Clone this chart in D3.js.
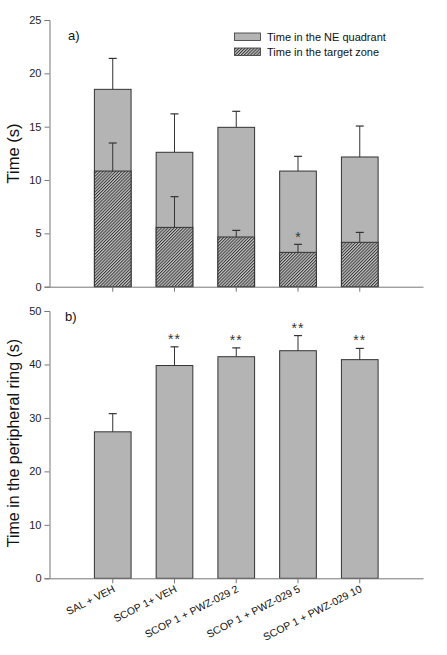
<!DOCTYPE html>
<html><head><meta charset="utf-8">
<script src="https://cdn.jsdelivr.net/npm/d3@7"></script>
<style>body{margin:0;background:#fff}svg{display:block;font-family:Arial,"Liberation Sans",sans-serif}</style>
</head><body><svg id="c" width="447" height="655"></svg>
<script>
const categories = ["SAL + VEH","SCOP 1+ VEH","SCOP 1 + PWZ-029 2","SCOP 1 + PWZ-029 5","SCOP 1 + PWZ-029 10"];
const neQuadrant = [18.5, 12.6, 14.94, 10.84, 12.16];
const neQuadrantErr = [2.9, 3.6, 1.5, 1.38, 2.9];
const targetZone = [10.84, 5.56, 4.66, 3.22, 4.16];
const targetZoneErr = [2.63, 2.88, 0.62, 0.75, 0.93];
const targetSig = ["", "", "", "*", ""];
const periphRing = [27.4, 39.8, 41.45, 42.57, 40.9];
const periphRingErr = [3.4, 3.5, 1.65, 2.83, 2.1];
const periphSig = ["", "**", "**", "**", "**"];
const ticksA = [0,5,10,15,20,25];
const ticksB = [0,10,20,30,40,50];
const legendLabels = ["Time in the NE quadrant","Time in the target zone"];

const svg = d3.select("#c");
const barFill = "#b4b4b4", edge = "#333", axisCol = "#777";

const defs = svg.append("defs");
const P = 2.2;
const pat = defs.append("pattern").attr("id","hatch").attr("patternUnits","userSpaceOnUse")
  .attr("width",P).attr("height",P).attr("patternTransform","rotate(45)");
pat.append("rect").attr("width",P).attr("height",P).attr("fill","#c4c4c4");
pat.append("line").attr("x1",0.5).attr("y1",0).attr("x2",0.5).attr("y2",P).attr("stroke","#3a3a3a").attr("stroke-width",1);

const x = d3.scaleBand().domain(categories).range([49.5,423]).paddingInner(0.406).paddingOuter(0.727);

function panel(yTop, yBot, max, ticks){
  const y = d3.scaleLinear().domain([0,max]).range([yBot,yTop]);
  const g = svg.append("g");
  const ya = g.append("g").attr("transform","translate(49.5,0)")
    .call(d3.axisLeft(y).tickValues(ticks).tickSize(5).tickPadding(3));
  ya.select(".domain").attr("stroke",axisCol);
  ya.selectAll(".tick line").attr("stroke",axisCol);
  ya.selectAll("text").attr("font-size",11).attr("fill","#222").attr("font-family","Arial, 'Liberation Sans', sans-serif");
  return {y,g};
}
function xAxis(g,y,labels){
  const xa = g.append("g").attr("transform",`translate(0,${y.range()[0]})`)
    .call(d3.axisBottom(x).tickSize(5).tickSizeOuter(0).tickFormat(labels?null:""));
  xa.select(".domain").attr("stroke",axisCol);
  xa.selectAll(".tick line").attr("stroke",axisCol);
  return xa;
}
function errBars(g,y,vals,errs){
  const cap = 4;
  vals.forEach((v,i)=>{
    const cx = x(categories[i]) + x.bandwidth()/2;
    g.append("line").attr("x1",cx).attr("x2",cx).attr("y1",y(v)).attr("y2",y(v+errs[i])).attr("stroke",edge).attr("stroke-width",1);
    g.append("line").attr("x1",cx-cap).attr("x2",cx+cap).attr("y1",y(v+errs[i])).attr("y2",y(v+errs[i])).attr("stroke",edge).attr("stroke-width",1.2);
  });
}

// Panel a
const A = panel(20, 286.7, 25, ticksA);
A.g.selectAll(".ne").data(neQuadrant).join("rect")
  .attr("x",(d,i)=>x(categories[i])).attr("width",x.bandwidth())
  .attr("y",d=>A.y(d)).attr("height",d=>A.y(0)-A.y(d))
  .attr("fill",barFill).attr("stroke",edge).attr("stroke-width",1);
errBars(A.g,A.y,neQuadrant,neQuadrantErr);
A.g.selectAll(".tz").data(targetZone).join("rect")
  .attr("x",(d,i)=>x(categories[i])).attr("width",x.bandwidth())
  .attr("y",d=>A.y(d)).attr("height",d=>A.y(0)-A.y(d))
  .attr("fill","url(#hatch)").attr("stroke",edge).attr("stroke-width",1);
errBars(A.g,A.y,targetZone,targetZoneErr);
targetSig.forEach((s,i)=>{ if(!s) return;
  A.g.append("text").attr("x",x(categories[i])+x.bandwidth()/2).attr("y",A.y(targetZone[i]+targetZoneErr[i])-2)
   .attr("text-anchor","middle").attr("font-size",14).attr("fill","#333").text(s);
});
xAxis(A.g,A.y,false);
A.g.append("text").attr("x",68).attr("y",40).attr("font-size",13).attr("fill","#111").text("a)");
A.g.append("text").attr("transform","translate(19,153.5) rotate(-90)").attr("text-anchor","middle")
  .attr("font-size",16.5).attr("fill","#111").text("Time (s)");
// legend
const legFills = [barFill,"url(#hatch)"];
legendLabels.forEach((l,i)=>{
  const ly = 33 + i*15;
  A.g.append("rect").attr("x",234.5).attr("y",ly).attr("width",26).attr("height",7.5)
    .attr("fill",legFills[i]).attr("stroke",edge).attr("stroke-width",0.8);
  A.g.append("text").attr("x",267).attr("y",ly+7.5).attr("font-size",11).attr("fill","#111").text(l);
});

// Panel b
const B = panel(311, 578.3, 50, ticksB);
B.g.selectAll(".pr").data(periphRing).join("rect")
  .attr("x",(d,i)=>x(categories[i])).attr("width",x.bandwidth())
  .attr("y",d=>B.y(d)).attr("height",d=>B.y(0)-B.y(d))
  .attr("fill",barFill).attr("stroke",edge).attr("stroke-width",1);
errBars(B.g,B.y,periphRing,periphRingErr);
periphSig.forEach((s,i)=>{ if(!s) return;
  B.g.append("text").attr("x",x(categories[i])+x.bandwidth()/2).attr("y",B.y(periphRing[i]+periphRingErr[i])-3)
   .attr("text-anchor","middle").attr("font-size",14).attr("letter-spacing",1).attr("fill","#333").text(s);
});
const xb = xAxis(B.g,B.y,true);
xb.selectAll("text").attr("font-size",10.5).attr("fill","#111")
  .attr("font-family","Arial, 'Liberation Sans', sans-serif")
  .attr("text-anchor","end").attr("dy",null).attr("y",0).attr("x",0)
  .attr("transform","translate(3,13) rotate(-27)");
B.g.append("text").attr("x",65).attr("y",321).attr("font-size",13).attr("fill","#111").text("b)");
B.g.append("text").attr("transform","translate(19,443) rotate(-90)").attr("text-anchor","middle")
  .attr("font-size",16).attr("fill","#111").text("Time in the peripheral ring (s)");
</script></body></html>
